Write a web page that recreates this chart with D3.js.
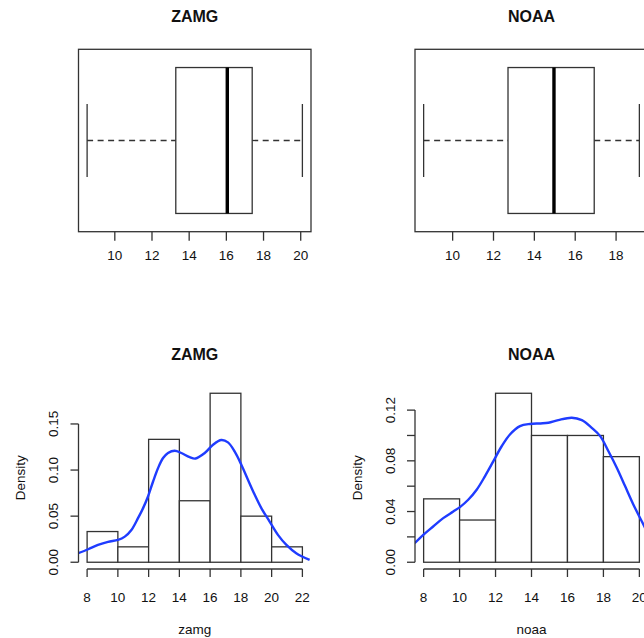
<!DOCTYPE html>
<html>
<head>
<meta charset="utf-8">
<script src="https://cdn.jsdelivr.net/npm/d3@7"></script>
<style>
  body { margin: 0; background: #fff; }
  svg { display: block; font-family: "Liberation Sans", Arial, sans-serif; }
</style>
</head>
<body>
<div id="chart"></div>
<script>
(function() {

  // boxplot five-number summaries: lower whisker, Q1, median, Q3, upper whisker
  var zamgBox = [8.51, 13.28, 16.05, 17.39, 20.09];
  var noaaBox = [8.58, 12.71, 14.96, 16.93, 19.14];
  var zamgBoxTicks = [10, 12, 14, 16, 18, 20];
  var noaaBoxTicks = [10, 12, 14, 16, 18];

  // histograms
  var zamgBreaks = [8, 10, 12, 14, 16, 18, 20, 22];
  var zamgDensity = [0.0333, 0.0167, 0.1333, 0.0667, 0.1833, 0.05, 0.0167];
  var noaaBreaks = [8, 10, 12, 14, 16, 18, 20];
  var noaaDensity = [0.05, 0.0333, 0.1333, 0.1, 0.1, 0.0833];

  var zamgYTicks = [0, 0.05, 0.10, 0.15];
  var zamgYLabels = ['0.00', '0.05', '0.10', '0.15'];
  var noaaYTicks = [0, 0.02, 0.04, 0.06, 0.08, 0.10, 0.12];
  var noaaYLabels = ['0.00', '', '0.04', '', '0.08', '', '0.12'];

  // kernel density curves: [x, density]
  var zamgKde = [
    [7.42, 0.0098], [8.07, 0.0141], [8.71, 0.0188], [9.36, 0.0221], [10.01, 0.0242],
    [10.45, 0.0278], [10.88, 0.035], [11.31, 0.0478], [11.64, 0.0587], [11.96, 0.0713],
    [12.29, 0.0876], [12.61, 0.102], [12.94, 0.113], [13.26, 0.1185], [13.7, 0.121],
    [14.13, 0.1185], [14.67, 0.114], [15.05, 0.1125], [15.65, 0.1185], [16.19, 0.1275],
    [16.73, 0.1326], [17.16, 0.130], [17.6, 0.120], [18.03, 0.1058], [18.46, 0.0895],
    [18.9, 0.0732], [19.33, 0.0587], [19.87, 0.0441], [20.41, 0.0297], [20.96, 0.0188],
    [21.6, 0.0098], [22.47, 0.0025]
  ];
  var noaaKde = [
    [7.5, 0.015], [7.98, 0.0216], [8.53, 0.0282], [9.09, 0.0348], [9.65, 0.040],
    [10.02, 0.0435], [10.48, 0.0493], [10.95, 0.0572], [11.41, 0.0678], [11.88, 0.0797],
    [12.34, 0.0915], [12.8, 0.1008], [13.36, 0.1074], [13.92, 0.1091], [14.5, 0.1095],
    [14.94, 0.110], [15.49, 0.1121], [16.24, 0.114], [16.8, 0.1121], [17.35, 0.106],
    [17.82, 0.0995], [18.28, 0.0876], [18.75, 0.0744], [19.21, 0.0599], [19.67, 0.0454],
    [20.14, 0.0321], [20.5, 0.022]
  ];

  var width = 644, height = 638;
  var ink = '#333';
  var lw = 1.3;

  var svg = d3.select('#chart')
              .append('svg')
              .attr('width', width)
              .attr('height', height);

  var defs = svg.append('defs');

  var cols = [[78.5, 311], [415, 648]];
  var rows = [[49.3, 231.7], [386.5, 569]];

  function ext(lo, hi) {
    var d = (hi - lo) * 0.04;
    return [lo - d, hi + d];
  }

  function title(cx, y, txt) {
    svg.append('text')
       .attr('x', cx).attr('y', y)
       .attr('text-anchor', 'middle')
       .attr('font-size', 16)
       .attr('font-weight', 'bold')
       .attr('fill', '#111')
       .text(txt);
  }

  function boxplot(col, stats, ticks, name) {
    var x0 = cols[col][0], x1 = cols[col][1];
    var y0 = rows[0][0], y1 = rows[0][1];
    var x = d3.scaleLinear().domain(ext(stats[0], stats[4])).range([x0, x1]);
    var y = d3.scaleLinear().domain([0.5, 1.5]).range([y1, y0]);
    var g = svg.append('g');

    title((x0 + x1) / 2, 22, name);

    g.append('rect')
     .attr('x', x0).attr('y', y0)
     .attr('width', x1 - x0).attr('height', y1 - y0)
     .attr('fill', 'none').attr('stroke', ink).attr('stroke-width', lw);

    var cy = y(1);
    var bh = y(0.6) - y(1.4);   // box half-width 0.4

    // whiskers
    g.selectAll('line.wh')
     .data([[stats[0], stats[1]], [stats[3], stats[4]]])
     .enter().append('line')
     .attr('x1', function(d) { return x(d[0]); })
     .attr('x2', function(d) { return x(d[1]); })
     .attr('y1', cy).attr('y2', cy)
     .attr('stroke', ink).attr('stroke-width', lw)
     .attr('stroke-dasharray', '6,4.5');

    g.selectAll('line.cap')
     .data([stats[0], stats[4]])
     .enter().append('line')
     .attr('x1', function(d) { return x(d); })
     .attr('x2', function(d) { return x(d); })
     .attr('y1', y(1.2)).attr('y2', y(0.8))
     .attr('stroke', ink).attr('stroke-width', lw);

    g.append('rect')
     .attr('x', x(stats[1])).attr('y', y(1.4))
     .attr('width', x(stats[3]) - x(stats[1])).attr('height', bh)
     .attr('fill', 'none').attr('stroke', ink).attr('stroke-width', lw);

    g.append('line')
     .attr('x1', x(stats[2])).attr('x2', x(stats[2]))
     .attr('y1', y(1.4)).attr('y2', y(0.6))
     .attr('stroke', '#000').attr('stroke-width', 3.4);

    // x axis
    var ax = g.append('g').attr('transform', 'translate(0,' + y1 + ')');
    ax.selectAll('line')
      .data(ticks).enter().append('line')
      .attr('x1', x).attr('x2', x)
      .attr('y1', 0).attr('y2', 9)
      .attr('stroke', ink).attr('stroke-width', lw);
    ax.selectAll('text')
      .data(ticks).enter().append('text')
      .attr('x', x).attr('y', 28.5)
      .attr('text-anchor', 'middle')
      .attr('font-size', 13.5)
      .attr('fill', '#111')
      .text(function(d) { return d; });
  }

  function histogram(col, breaks, dens, kde, yTicks, yLabels, name, xlab) {
    var x0 = cols[col][0], x1 = cols[col][1];
    var y0 = rows[1][0], y1 = rows[1][1];
    var x = d3.scaleLinear().domain(ext(breaks[0], breaks[breaks.length - 1])).range([x0, x1]);
    var y = d3.scaleLinear().domain(ext(0, d3.max(dens))).range([y1, y0]);
    var g = svg.append('g');

    title((x0 + x1) / 2, 359.5, name);

    var bins = dens.map(function(d, i) { return { a: breaks[i], b: breaks[i + 1], d: d }; });

    g.selectAll('rect')
     .data(bins).enter().append('rect')
     .attr('x', function(d) { return x(d.a); })
     .attr('y', function(d) { return y(d.d); })
     .attr('width', function(d) { return x(d.b) - x(d.a); })
     .attr('height', function(d) { return y(0) - y(d.d); })
     .attr('fill', '#fff').attr('stroke', ink).attr('stroke-width', lw);

    var clipId = 'clip' + col;
    defs.append('clipPath').attr('id', clipId)
        .append('rect')
        .attr('x', x0).attr('y', y0)
        .attr('width', x1 - x0).attr('height', y1 - y0);

    var line = d3.line()
      .curve(d3.curveCatmullRom)
      .x(function(d) { return x(d[0]); })
      .y(function(d) { return y(d[1]); });

    g.append('path')
     .datum(kde)
     .attr('clip-path', 'url(#' + clipId + ')')
     .attr('d', line)
     .attr('fill', 'none')
     .attr('stroke', '#1f3cff')
     .attr('stroke-width', 2.4);

    // x axis
    var xt = breaks;
    var ax = g.append('g').attr('transform', 'translate(0,' + y1 + ')');
    ax.append('line')
      .attr('x1', x(xt[0])).attr('x2', x(xt[xt.length - 1]))
      .attr('stroke', ink).attr('stroke-width', lw);
    ax.selectAll('line.t')
      .data(xt).enter().append('line')
      .attr('class', 't')
      .attr('x1', x).attr('x2', x)
      .attr('y1', 0).attr('y2', 8)
      .attr('stroke', ink).attr('stroke-width', lw);
    ax.selectAll('text')
      .data(xt).enter().append('text')
      .attr('x', x).attr('y', 32.5)
      .attr('text-anchor', 'middle')
      .attr('font-size', 13.5)
      .attr('fill', '#111')
      .text(function(d) { return d; });

    // y axis
    var ay = g.append('g').attr('transform', 'translate(' + x0 + ',0)');
    ay.append('line')
      .attr('y1', y(yTicks[0])).attr('y2', y(yTicks[yTicks.length - 1]))
      .attr('stroke', ink).attr('stroke-width', lw);
    ay.selectAll('line.t')
      .data(yTicks).enter().append('line')
      .attr('class', 't')
      .attr('y1', y).attr('y2', y)
      .attr('x1', 0).attr('x2', -8)
      .attr('stroke', ink).attr('stroke-width', lw);
    ay.selectAll('text')
      .data(yTicks).enter().append('text')
      .attr('transform', function(d) { return 'translate(-25,' + y(d) + ') rotate(-90)'; })
      .attr('dy', '0.35em')
      .attr('text-anchor', 'middle')
      .attr('font-size', 13.5)
      .attr('fill', '#111')
      .text(function(d, i) { return yLabels[i]; });

    svg.append('text')
       .attr('transform', 'translate(' + (x0 - 58) + ',' + ((y0 + y1) / 2) + ') rotate(-90)')
       .attr('dy', '0.35em')
       .attr('text-anchor', 'middle')
       .attr('font-size', 13.5)
       .attr('fill', '#111')
       .text('Density');

    svg.append('text')
       .attr('x', (x0 + x1) / 2).attr('y', 634)
       .attr('text-anchor', 'middle')
       .attr('font-size', 13.5)
       .attr('fill', '#111')
       .text(xlab);
  }

  boxplot(0, zamgBox, zamgBoxTicks, 'ZAMG');
  boxplot(1, noaaBox, noaaBoxTicks, 'NOAA');
  histogram(0, zamgBreaks, zamgDensity, zamgKde, zamgYTicks, zamgYLabels, 'ZAMG', 'zamg');
  histogram(1, noaaBreaks, noaaDensity, noaaKde, noaaYTicks, noaaYLabels, 'NOAA', 'noaa');

})();
</script>
</body>
</html>
